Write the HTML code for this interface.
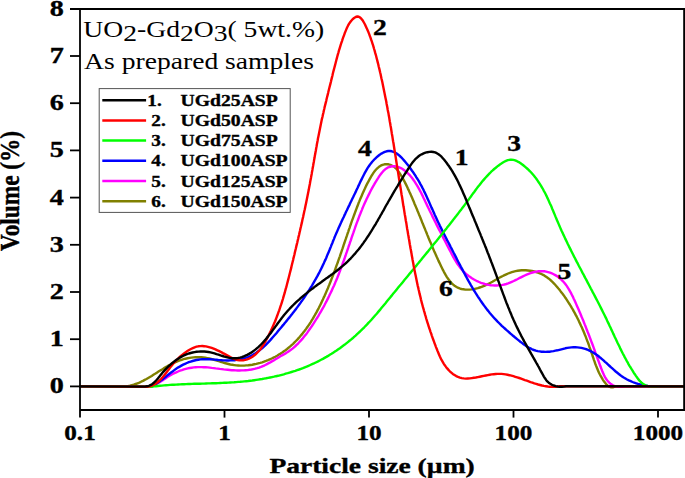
<!DOCTYPE html>
<html><head><meta charset="utf-8"><style>
html,body{margin:0;padding:0;background:#fff;width:685px;height:478px;overflow:hidden}
svg{display:block}
text{font-family:"Liberation Serif",serif}
.b{font-weight:bold;font-size:21px;stroke:#000;stroke-width:0.35px}
.c path{fill:none;stroke-width:2.4;stroke-linejoin:round;stroke-linecap:round}
.a path{fill:none;stroke:#000;stroke-width:1.8}
</style></head><body>
<svg width="685" height="478" viewBox="0 0 685 478">
<g class="c"><path d="M80 386.4 L124.0 386.6 L126.1 386.4 L128.0 386.1 L130.0 385.7 L131.9 385.2 L133.8 384.7 L135.7 384.0 L137.5 383.3 L139.4 382.6 L141.2 381.7 L143.0 380.9 L144.7 379.9 L146.5 379.0 L148.2 378.0 L149.9 377.0 L151.7 375.9 L153.4 374.8 L155.1 373.8 L156.8 372.7 L158.5 371.6 L160.2 370.5 L162.0 369.5 L163.7 368.4 L165.4 367.4 L167.2 366.4 L168.9 365.4 L170.7 364.5 L172.5 363.5 L174.3 362.7 L176.1 361.9 L177.9 361.1 L179.8 360.4 L181.7 359.8 L183.6 359.2 L185.5 358.7 L187.5 358.3 L189.5 357.9 L191.4 357.6 L193.4 357.4 L195.4 357.3 L197.4 357.2 L199.4 357.3 L201.4 357.3 L203.4 357.5 L205.4 357.8 L207.3 358.1 L209.3 358.5 L211.2 359.0 L213.1 359.5 L215.0 360.1 L216.9 360.6 L218.8 361.2 L220.7 361.8 L222.7 362.4 L224.6 363.0 L226.5 363.5 L228.4 364.0 L230.4 364.5 L232.3 364.8 L234.3 365.1 L236.2 365.4 L238.2 365.5 L240.2 365.6 L242.2 365.6 L244.2 365.6 L246.2 365.4 L248.3 365.3 L250.3 365.0 L252.3 364.7 L254.3 364.3 L256.3 363.9 L258.2 363.4 L260.2 362.9 L262.2 362.3 L264.1 361.6 L266.0 360.9 L268.0 360.1 L269.8 359.3 L271.7 358.5 L273.5 357.6 L275.3 356.7 L277.1 355.7 L278.9 354.6 L280.6 353.6 L282.3 352.5 L283.9 351.3 L285.5 350.2 L287.1 349.0 L288.6 347.7 L290.2 346.4 L291.6 345.1 L293.1 343.8 L294.5 342.4 L295.9 341.0 L297.3 339.6 L298.6 338.1 L299.9 336.7 L301.2 335.1 L302.5 333.6 L303.7 332.1 L304.9 330.5 L306.1 328.9 L307.2 327.3 L308.4 325.6 L309.5 324.0 L310.6 322.3 L311.6 320.6 L312.7 318.9 L313.7 317.1 L314.7 315.4 L315.7 313.6 L316.7 311.9 L317.6 310.1 L318.6 308.3 L319.5 306.5 L320.4 304.7 L321.3 302.9 L322.1 301.1 L323.0 299.3 L323.8 297.4 L324.7 295.6 L325.5 293.8 L326.3 291.9 L327.1 290.1 L327.9 288.2 L328.6 286.4 L329.4 284.5 L330.1 282.7 L330.9 280.8 L331.6 278.9 L332.3 277.0 L333.1 275.2 L333.8 273.3 L334.5 271.4 L335.2 269.5 L335.8 267.6 L336.5 265.7 L337.2 263.9 L337.9 262.0 L338.5 260.1 L339.2 258.2 L339.9 256.3 L340.5 254.4 L341.2 252.5 L341.8 250.6 L342.5 248.7 L343.1 246.8 L343.7 244.9 L344.4 243.0 L345.0 241.1 L345.7 239.2 L346.3 237.3 L347.0 235.4 L347.6 233.5 L348.3 231.6 L348.9 229.7 L349.6 227.8 L350.2 225.9 L350.9 224.0 L351.5 222.1 L352.2 220.2 L352.9 218.3 L353.6 216.4 L354.3 214.5 L355.0 212.6 L355.7 210.8 L356.4 208.9 L357.1 207.0 L357.8 205.2 L358.5 203.3 L359.3 201.4 L360.0 199.6 L360.8 197.7 L361.6 195.9 L362.4 194.0 L363.2 192.2 L364.0 190.4 L364.9 188.5 L365.7 186.7 L366.6 184.9 L367.5 183.1 L368.5 181.3 L369.4 179.6 L370.4 177.8 L371.4 176.0 L372.5 174.3 L373.6 172.6 L374.8 171.0 L376.1 169.5 L377.5 168.1 L379.0 166.8 L380.7 165.7 L382.5 164.9 L384.5 164.3 L386.5 164.1 L388.5 164.3 L390.4 164.8 L392.2 165.7 L394.0 166.7 L395.5 168.0 L396.9 169.4 L398.1 171.0 L399.3 172.6 L400.4 174.3 L401.4 176.0 L402.4 177.7 L403.4 179.5 L404.4 181.3 L405.3 183.1 L406.2 184.9 L407.1 186.8 L407.9 188.6 L408.8 190.4 L409.6 192.3 L410.5 194.1 L411.3 196.0 L412.1 197.8 L412.9 199.7 L413.7 201.5 L414.4 203.4 L415.2 205.2 L416.0 207.1 L416.8 208.9 L417.5 210.7 L418.3 212.6 L419.0 214.4 L419.8 216.2 L420.5 218.1 L421.3 219.9 L422.0 221.8 L422.7 223.6 L423.5 225.4 L424.2 227.3 L425.0 229.1 L425.7 230.9 L426.5 232.8 L427.2 234.6 L428.0 236.5 L428.7 238.3 L429.5 240.2 L430.3 242.0 L431.1 243.8 L431.8 245.7 L432.6 247.5 L433.4 249.4 L434.2 251.3 L435.1 253.1 L435.9 255.0 L436.7 256.8 L437.6 258.7 L438.4 260.6 L439.3 262.4 L440.2 264.3 L441.1 266.2 L442.0 268.0 L442.9 269.9 L443.9 271.8 L444.9 273.6 L445.9 275.4 L446.9 277.1 L448.1 278.8 L449.2 280.4 L450.5 281.9 L451.8 283.3 L453.2 284.6 L454.6 285.7 L456.2 286.8 L457.8 287.7 L459.6 288.4 L461.4 289.0 L463.4 289.3 L465.4 289.6 L467.5 289.6 L469.6 289.6 L471.7 289.4 L473.8 289.1 L475.8 288.6 L477.8 288.1 L479.7 287.5 L481.6 286.9 L483.5 286.1 L485.3 285.3 L487.1 284.5 L488.9 283.6 L490.6 282.7 L492.4 281.7 L494.1 280.7 L495.8 279.8 L497.6 278.8 L499.3 277.8 L501.0 276.9 L502.8 276.0 L504.5 275.1 L506.3 274.3 L508.1 273.5 L509.9 272.8 L511.8 272.2 L513.7 271.6 L515.6 271.1 L517.6 270.8 L519.6 270.5 L521.6 270.3 L523.7 270.3 L525.8 270.3 L527.9 270.5 L530.0 270.7 L532.0 271.0 L534.1 271.5 L536.1 272.0 L538.0 272.6 L539.9 273.4 L541.8 274.2 L543.6 275.1 L545.3 276.2 L546.9 277.3 L548.5 278.4 L550.0 279.7 L551.5 281.0 L552.9 282.4 L554.3 283.8 L555.6 285.2 L556.9 286.7 L558.2 288.3 L559.5 289.8 L560.7 291.4 L561.9 292.9 L563.1 294.5 L564.3 296.1 L565.4 297.8 L566.5 299.4 L567.6 301.1 L568.7 302.8 L569.8 304.5 L570.8 306.2 L571.8 307.9 L572.9 309.6 L573.8 311.4 L574.8 313.1 L575.7 314.9 L576.7 316.7 L577.6 318.5 L578.5 320.3 L579.3 322.1 L580.2 323.9 L581.0 325.7 L581.9 327.6 L582.7 329.4 L583.5 331.3 L584.3 333.2 L585.0 335.0 L585.8 336.9 L586.5 338.8 L587.2 340.7 L588.0 342.6 L588.7 344.5 L589.3 346.4 L590.0 348.3 L590.7 350.2 L591.3 352.1 L592.0 354.0 L592.6 356.0 L593.3 357.9 L593.9 359.8 L594.6 361.7 L595.2 363.5 L595.9 365.4 L596.7 367.3 L597.4 369.1 L598.2 370.9 L599.0 372.7 L599.9 374.5 L600.8 376.2 L601.8 377.9 L602.8 379.6 L603.9 381.2 L605.1 382.8 L606.3 384.4 L607.7 385.7 L609.3 386.7 L611.1 387.3 L613.4 387.2 L616.0 386.4 L683 386.4" stroke="#808000"/><path d="M80 386.4 L150.1 386.7 L152.0 386.1 L153.8 385.3 L155.6 384.4 L157.3 383.5 L159.1 382.5 L160.7 381.4 L162.4 380.4 L164.1 379.3 L165.8 378.2 L167.4 377.1 L169.1 376.0 L170.9 375.0 L172.6 374.0 L174.4 373.1 L176.3 372.3 L178.1 371.5 L180.0 370.7 L181.9 370.1 L183.9 369.4 L185.8 368.9 L187.8 368.4 L189.7 368.0 L191.7 367.7 L193.7 367.4 L195.7 367.2 L197.7 367.1 L199.7 367.1 L201.7 367.1 L203.7 367.2 L205.7 367.3 L207.7 367.4 L209.7 367.6 L211.7 367.9 L213.7 368.1 L215.7 368.4 L217.7 368.6 L219.7 368.9 L221.7 369.1 L223.7 369.4 L225.7 369.6 L227.7 369.8 L229.7 370.0 L231.7 370.2 L233.7 370.3 L235.7 370.4 L237.7 370.5 L239.7 370.5 L241.7 370.4 L243.7 370.4 L245.6 370.2 L247.6 370.1 L249.5 369.8 L251.5 369.5 L253.4 369.1 L255.3 368.7 L257.2 368.2 L259.1 367.6 L261.0 366.9 L262.9 366.1 L264.7 365.3 L266.5 364.4 L268.3 363.4 L270.2 362.4 L271.9 361.4 L273.7 360.4 L275.5 359.3 L277.3 358.2 L279.0 357.2 L280.8 356.1 L282.5 355.1 L284.3 354.1 L286.0 353.1 L287.7 352.0 L289.3 350.9 L290.9 349.8 L292.5 348.6 L294.0 347.3 L295.5 346.0 L296.9 344.7 L298.3 343.3 L299.7 341.8 L301.0 340.4 L302.3 338.9 L303.6 337.3 L304.8 335.8 L306.1 334.2 L307.3 332.6 L308.5 330.9 L309.6 329.3 L310.8 327.6 L311.9 326.0 L313.0 324.3 L314.1 322.6 L315.2 320.9 L316.3 319.2 L317.4 317.5 L318.4 315.8 L319.4 314.0 L320.4 312.3 L321.4 310.6 L322.4 308.8 L323.4 307.1 L324.4 305.3 L325.3 303.5 L326.3 301.7 L327.2 299.9 L328.1 298.1 L329.0 296.3 L329.8 294.5 L330.7 292.7 L331.6 290.9 L332.4 289.1 L333.2 287.3 L334.1 285.4 L334.9 283.6 L335.6 281.7 L336.4 279.9 L337.2 278.0 L337.9 276.2 L338.7 274.3 L339.4 272.4 L340.1 270.6 L340.8 268.7 L341.5 266.8 L342.2 264.9 L342.9 263.0 L343.6 261.1 L344.3 259.3 L344.9 257.4 L345.6 255.5 L346.2 253.6 L346.9 251.7 L347.5 249.8 L348.2 247.9 L348.8 246.0 L349.5 244.1 L350.1 242.2 L350.8 240.3 L351.4 238.4 L352.0 236.5 L352.7 234.6 L353.4 232.7 L354.0 230.8 L354.7 228.9 L355.3 227.0 L356.0 225.1 L356.7 223.2 L357.4 221.3 L358.1 219.5 L358.8 217.6 L359.5 215.7 L360.3 213.8 L361.0 212.0 L361.8 210.1 L362.5 208.3 L363.3 206.4 L364.1 204.6 L364.9 202.7 L365.8 200.9 L366.6 199.1 L367.5 197.2 L368.4 195.4 L369.3 193.6 L370.2 191.8 L371.1 190.0 L372.1 188.2 L373.1 186.4 L374.1 184.7 L375.1 182.9 L376.2 181.1 L377.3 179.4 L378.4 177.7 L379.5 175.9 L380.7 174.3 L381.9 172.7 L383.2 171.2 L384.6 169.9 L386.0 168.7 L387.6 167.7 L389.2 167.0 L391.0 166.5 L392.9 166.3 L394.8 166.3 L396.7 166.6 L398.5 167.1 L400.4 167.9 L402.2 168.8 L403.9 170.0 L405.6 171.2 L407.2 172.6 L408.7 174.2 L410.2 175.7 L411.5 177.3 L412.8 179.0 L414.0 180.7 L415.1 182.4 L416.2 184.1 L417.3 185.8 L418.3 187.6 L419.2 189.3 L420.2 191.1 L421.1 192.8 L422.0 194.6 L422.9 196.4 L423.7 198.2 L424.6 200.0 L425.4 201.8 L426.3 203.6 L427.1 205.4 L428.0 207.2 L428.9 209.0 L429.7 210.7 L430.6 212.5 L431.5 214.3 L432.3 216.1 L433.2 217.9 L434.1 219.7 L435.0 221.5 L435.9 223.3 L436.8 225.1 L437.7 226.9 L438.6 228.7 L439.5 230.5 L440.5 232.2 L441.4 234.0 L442.3 235.8 L443.2 237.6 L444.1 239.4 L445.1 241.2 L446.0 243.0 L446.9 244.8 L447.9 246.6 L448.8 248.4 L449.7 250.2 L450.7 252.0 L451.6 253.8 L452.6 255.6 L453.5 257.4 L454.5 259.1 L455.6 260.9 L456.6 262.6 L457.7 264.2 L458.9 265.9 L460.1 267.5 L461.3 269.0 L462.6 270.5 L464.0 272.0 L465.5 273.4 L467.0 274.7 L468.6 276.0 L470.2 277.1 L471.9 278.3 L473.6 279.3 L475.4 280.3 L477.2 281.2 L479.1 282.0 L481.0 282.8 L482.9 283.4 L484.8 284.0 L486.7 284.5 L488.7 284.9 L490.7 285.2 L492.6 285.4 L494.6 285.5 L496.6 285.5 L498.6 285.4 L500.5 285.2 L502.5 284.9 L504.4 284.5 L506.3 284.0 L508.1 283.4 L510.0 282.6 L511.8 281.8 L513.7 281.0 L515.5 280.1 L517.3 279.2 L519.1 278.2 L521.0 277.3 L522.9 276.4 L524.7 275.5 L526.6 274.6 L528.6 273.9 L530.5 273.2 L532.5 272.5 L534.5 272.0 L536.5 271.6 L538.4 271.3 L540.4 271.2 L542.4 271.2 L544.3 271.3 L546.2 271.6 L548.1 272.1 L550.0 272.6 L551.8 273.3 L553.6 274.2 L555.3 275.1 L557.0 276.1 L558.6 277.3 L560.1 278.5 L561.6 279.9 L563.0 281.3 L564.3 282.8 L565.5 284.3 L566.7 285.9 L567.8 287.6 L568.9 289.3 L569.9 291.1 L570.9 292.9 L571.8 294.7 L572.8 296.6 L573.6 298.4 L574.5 300.3 L575.4 302.2 L576.2 304.1 L577.0 305.9 L577.8 307.8 L578.6 309.6 L579.4 311.5 L580.2 313.3 L581.0 315.2 L581.7 317.0 L582.5 318.9 L583.3 320.7 L584.0 322.6 L584.7 324.4 L585.5 326.3 L586.2 328.1 L586.9 330.0 L587.6 331.8 L588.4 333.7 L589.1 335.5 L589.8 337.4 L590.5 339.2 L591.2 341.1 L591.9 343.0 L592.6 344.8 L593.3 346.7 L594.0 348.6 L594.7 350.5 L595.3 352.4 L596.0 354.3 L596.7 356.2 L597.4 358.1 L598.1 360.0 L598.8 361.9 L599.5 363.9 L600.2 365.8 L601.0 367.8 L601.7 369.7 L602.4 371.6 L603.3 373.5 L604.1 375.3 L605.0 377.1 L606.0 378.7 L607.1 380.3 L608.3 381.7 L609.6 383.0 L611.0 384.1 L612.5 385.0 L614.2 385.8 L616.1 386.4 L618.1 386.7 L620.3 386.9 L622.7 386.7 L625.2 386.3 L683 386.4" stroke="#ff00ff"/><path d="M80 386.4 L150.2 386.9 L152.0 386.1 L153.7 385.2 L155.5 384.2 L157.1 383.2 L158.8 382.1 L160.4 380.9 L162.0 379.7 L163.5 378.5 L165.1 377.3 L166.6 376.0 L168.2 374.8 L169.8 373.5 L171.4 372.3 L173.0 371.1 L174.6 369.9 L176.2 368.7 L177.9 367.6 L179.7 366.6 L181.4 365.6 L183.2 364.6 L185.0 363.8 L186.9 363.0 L188.8 362.2 L190.7 361.6 L192.6 361.0 L194.5 360.5 L196.4 360.0 L198.4 359.7 L200.4 359.4 L202.3 359.3 L204.3 359.2 L206.3 359.2 L208.3 359.2 L210.3 359.3 L212.3 359.4 L214.3 359.6 L216.3 359.8 L218.3 360.0 L220.3 360.1 L222.3 360.3 L224.4 360.4 L226.4 360.5 L228.4 360.5 L230.4 360.4 L232.5 360.3 L234.5 360.2 L236.5 359.9 L238.5 359.6 L240.4 359.3 L242.4 358.8 L244.3 358.3 L246.2 357.7 L248.0 357.1 L249.8 356.3 L251.6 355.5 L253.3 354.5 L255.0 353.5 L256.6 352.5 L258.2 351.3 L259.8 350.1 L261.4 348.9 L262.9 347.6 L264.4 346.2 L265.8 344.8 L267.2 343.4 L268.7 341.9 L270.1 340.4 L271.4 338.9 L272.8 337.3 L274.1 335.8 L275.5 334.2 L276.8 332.7 L278.1 331.1 L279.4 329.5 L280.7 328.0 L282.0 326.4 L283.3 324.9 L284.6 323.3 L285.9 321.8 L287.1 320.2 L288.4 318.6 L289.7 317.1 L290.9 315.5 L292.1 314.0 L293.3 312.4 L294.6 310.8 L295.8 309.2 L297.0 307.6 L298.1 306.1 L299.3 304.5 L300.5 302.9 L301.6 301.2 L302.8 299.6 L303.9 298.0 L305.0 296.3 L306.1 294.7 L307.2 293.0 L308.3 291.4 L309.4 289.7 L310.4 288.0 L311.5 286.3 L312.5 284.6 L313.5 282.8 L314.5 281.1 L315.5 279.4 L316.5 277.6 L317.5 275.9 L318.4 274.1 L319.4 272.3 L320.3 270.5 L321.2 268.7 L322.1 266.9 L322.9 265.1 L323.8 263.3 L324.6 261.4 L325.5 259.6 L326.3 257.7 L327.0 255.9 L327.8 254.0 L328.6 252.2 L329.4 250.3 L330.1 248.5 L330.9 246.6 L331.6 244.7 L332.4 242.9 L333.1 241.0 L333.9 239.1 L334.6 237.3 L335.4 235.4 L336.2 233.6 L337.0 231.8 L337.8 229.9 L338.6 228.1 L339.4 226.3 L340.2 224.5 L341.1 222.6 L341.9 220.8 L342.7 219.0 L343.6 217.2 L344.4 215.4 L345.3 213.6 L346.1 211.8 L347.0 210.0 L347.8 208.2 L348.7 206.4 L349.6 204.6 L350.4 202.8 L351.3 201.0 L352.2 199.1 L353.1 197.3 L353.9 195.5 L354.8 193.7 L355.7 191.9 L356.5 190.1 L357.4 188.2 L358.2 186.4 L359.1 184.6 L359.9 182.7 L360.8 180.9 L361.7 179.1 L362.6 177.3 L363.5 175.5 L364.4 173.7 L365.4 171.9 L366.4 170.1 L367.4 168.4 L368.5 166.7 L369.7 165.0 L370.9 163.4 L372.2 161.8 L373.6 160.3 L375.0 158.8 L376.5 157.4 L378.1 156.0 L379.7 154.7 L381.4 153.6 L383.1 152.7 L384.9 151.9 L386.6 151.3 L388.4 151.0 L390.1 151.0 L391.8 151.3 L393.5 151.8 L395.1 152.6 L396.7 153.5 L398.3 154.7 L399.8 156.0 L401.3 157.4 L402.8 159.0 L404.2 160.6 L405.6 162.2 L407.0 163.9 L408.3 165.6 L409.6 167.3 L410.8 169.0 L412.0 170.7 L413.2 172.3 L414.3 174.0 L415.4 175.6 L416.4 177.3 L417.5 179.0 L418.5 180.7 L419.5 182.4 L420.4 184.1 L421.4 185.8 L422.3 187.6 L423.2 189.3 L424.0 191.1 L424.9 192.9 L425.8 194.7 L426.6 196.5 L427.4 198.4 L428.3 200.2 L429.1 202.0 L429.9 203.9 L430.7 205.7 L431.5 207.6 L432.4 209.4 L433.2 211.3 L434.0 213.1 L434.8 214.9 L435.7 216.8 L436.5 218.6 L437.3 220.4 L438.2 222.2 L439.1 224.0 L439.9 225.8 L440.8 227.6 L441.7 229.4 L442.6 231.2 L443.5 233.0 L444.4 234.7 L445.3 236.5 L446.2 238.3 L447.1 240.1 L448.0 241.8 L449.0 243.6 L449.9 245.4 L450.8 247.2 L451.7 248.9 L452.6 250.7 L453.5 252.5 L454.5 254.3 L455.4 256.1 L456.3 257.9 L457.2 259.7 L458.1 261.5 L459.1 263.3 L460.0 265.0 L460.9 266.8 L461.9 268.6 L462.8 270.4 L463.7 272.2 L464.7 274.0 L465.7 275.8 L466.6 277.5 L467.6 279.3 L468.6 281.1 L469.6 282.8 L470.6 284.6 L471.6 286.3 L472.6 288.0 L473.6 289.8 L474.7 291.5 L475.7 293.2 L476.8 294.9 L477.9 296.6 L479.0 298.2 L480.1 299.9 L481.2 301.5 L482.4 303.2 L483.5 304.8 L484.7 306.4 L485.9 308.0 L487.1 309.6 L488.4 311.1 L489.6 312.7 L490.9 314.2 L492.2 315.7 L493.5 317.2 L494.8 318.7 L496.2 320.1 L497.6 321.6 L499.0 323.0 L500.4 324.4 L501.8 325.8 L503.3 327.2 L504.8 328.5 L506.3 329.9 L507.8 331.2 L509.3 332.5 L510.8 333.8 L512.4 335.2 L514.0 336.5 L515.5 337.8 L517.1 339.1 L518.7 340.4 L520.3 341.7 L521.9 342.9 L523.6 344.2 L525.2 345.3 L526.9 346.5 L528.6 347.5 L530.4 348.4 L532.1 349.3 L534.0 350.0 L535.8 350.6 L537.7 351.1 L539.6 351.4 L541.6 351.7 L543.5 351.8 L545.5 351.9 L547.5 351.8 L549.5 351.7 L551.5 351.4 L553.5 351.1 L555.4 350.7 L557.4 350.3 L559.4 349.8 L561.4 349.3 L563.3 348.8 L565.3 348.3 L567.3 347.9 L569.3 347.6 L571.4 347.4 L573.4 347.3 L575.4 347.3 L577.4 347.4 L579.4 347.6 L581.4 347.9 L583.3 348.4 L585.2 348.9 L587.1 349.5 L588.9 350.3 L590.6 351.1 L592.3 352.0 L594.0 353.1 L595.7 354.1 L597.3 355.3 L598.9 356.5 L600.4 357.8 L602.0 359.1 L603.5 360.4 L605.0 361.8 L606.6 363.2 L608.1 364.6 L609.6 366.0 L611.1 367.4 L612.6 368.7 L614.2 370.1 L615.7 371.5 L617.3 372.8 L618.8 374.0 L620.4 375.3 L622.1 376.4 L623.7 377.5 L625.4 378.5 L627.1 379.5 L628.9 380.4 L630.7 381.2 L632.5 382.0 L634.3 382.7 L636.2 383.3 L638.1 383.9 L640.0 384.4 L641.9 384.9 L643.9 385.3 L645.8 385.6 L647.8 385.9 L649.8 386.1 L651.9 386.2 L653.9 386.3 L656.0 386.4 L658.0 386.4 L660.1 386.3 L683 386.4" stroke="#0000ff"/><path d="M80 386.4 L152.0 386.7 L154.0 386.4 L156.0 386.2 L158.0 386.0 L160.0 385.8 L162.0 385.6 L164.0 385.4 L166.0 385.2 L168.0 385.1 L170.0 384.9 L172.1 384.8 L174.1 384.7 L176.1 384.6 L178.1 384.5 L180.1 384.4 L182.1 384.3 L184.1 384.2 L186.1 384.1 L188.1 384.0 L190.1 384.0 L192.1 383.9 L194.1 383.8 L196.1 383.8 L198.1 383.7 L200.1 383.7 L202.1 383.6 L204.1 383.6 L206.1 383.5 L208.1 383.4 L210.1 383.4 L212.1 383.3 L214.1 383.3 L216.1 383.2 L218.1 383.1 L220.2 383.0 L222.2 382.9 L224.2 382.8 L226.2 382.7 L228.2 382.6 L230.2 382.5 L232.2 382.4 L234.2 382.3 L236.2 382.1 L238.2 381.9 L240.2 381.8 L242.2 381.6 L244.2 381.4 L246.2 381.2 L248.2 381.0 L250.2 380.7 L252.2 380.5 L254.2 380.2 L256.2 379.9 L258.2 379.6 L260.2 379.3 L262.2 379.0 L264.1 378.6 L266.1 378.3 L268.1 377.9 L270.1 377.5 L272.1 377.1 L274.0 376.7 L276.0 376.2 L278.0 375.8 L279.9 375.3 L281.9 374.8 L283.8 374.3 L285.7 373.7 L287.7 373.2 L289.6 372.6 L291.5 372.0 L293.4 371.4 L295.3 370.8 L297.2 370.1 L299.1 369.5 L301.0 368.8 L302.9 368.1 L304.8 367.3 L306.6 366.6 L308.5 365.8 L310.3 365.0 L312.1 364.2 L313.9 363.4 L315.8 362.5 L317.6 361.6 L319.3 360.7 L321.1 359.8 L322.9 358.9 L324.6 357.9 L326.4 356.9 L328.1 355.9 L329.8 354.8 L331.5 353.8 L333.2 352.7 L334.9 351.6 L336.6 350.5 L338.3 349.3 L339.9 348.2 L341.5 347.0 L343.1 345.8 L344.8 344.6 L346.3 343.4 L347.9 342.1 L349.5 340.8 L351.0 339.6 L352.6 338.3 L354.1 336.9 L355.6 335.6 L357.1 334.2 L358.5 332.9 L360.0 331.5 L361.4 330.1 L362.9 328.7 L364.3 327.3 L365.7 325.8 L367.1 324.4 L368.4 322.9 L369.8 321.5 L371.2 320.0 L372.5 318.5 L373.8 317.0 L375.1 315.5 L376.5 314.0 L377.8 312.4 L379.1 310.9 L380.4 309.4 L381.6 307.8 L382.9 306.3 L384.2 304.7 L385.5 303.2 L386.8 301.6 L388.0 300.1 L389.3 298.5 L390.6 296.9 L391.9 295.4 L393.1 293.8 L394.4 292.3 L395.7 290.7 L396.9 289.2 L398.2 287.6 L399.5 286.0 L400.8 284.5 L402.1 282.9 L403.3 281.4 L404.6 279.8 L405.9 278.3 L407.2 276.7 L408.4 275.2 L409.7 273.6 L411.0 272.1 L412.3 270.5 L413.6 269.0 L414.8 267.4 L416.1 265.9 L417.4 264.3 L418.7 262.8 L419.9 261.2 L421.2 259.7 L422.5 258.1 L423.8 256.5 L425.0 255.0 L426.3 253.4 L427.6 251.9 L428.9 250.3 L430.1 248.8 L431.4 247.2 L432.7 245.6 L433.9 244.1 L435.2 242.5 L436.5 241.0 L437.7 239.4 L439.0 237.8 L440.2 236.3 L441.5 234.7 L442.7 233.1 L444.0 231.6 L445.2 230.0 L446.5 228.4 L447.7 226.8 L449.0 225.3 L450.2 223.7 L451.5 222.1 L452.7 220.5 L453.9 218.9 L455.2 217.3 L456.4 215.8 L457.6 214.2 L458.8 212.6 L460.0 211.0 L461.3 209.4 L462.5 207.8 L463.7 206.2 L464.9 204.6 L466.1 203.0 L467.3 201.4 L468.5 199.7 L469.7 198.1 L470.9 196.5 L472.0 194.9 L473.2 193.3 L474.4 191.7 L475.6 190.0 L476.8 188.4 L478.0 186.8 L479.3 185.3 L480.5 183.7 L481.8 182.1 L483.0 180.6 L484.3 179.1 L485.7 177.5 L487.0 176.1 L488.4 174.6 L489.8 173.2 L491.2 171.7 L492.7 170.4 L494.2 169.0 L495.8 167.7 L497.4 166.4 L499.0 165.2 L500.7 163.9 L502.5 162.8 L504.2 161.8 L506.0 160.9 L507.8 160.2 L509.7 159.8 L511.5 159.7 L513.4 159.9 L515.2 160.4 L517.0 161.2 L518.8 162.1 L520.6 163.3 L522.3 164.5 L523.9 165.8 L525.5 167.1 L527.1 168.5 L528.6 169.9 L530.0 171.3 L531.4 172.8 L532.7 174.3 L534.0 175.8 L535.3 177.4 L536.5 179.0 L537.6 180.6 L538.7 182.3 L539.8 183.9 L540.9 185.6 L541.9 187.3 L542.9 189.0 L543.8 190.8 L544.8 192.5 L545.7 194.3 L546.6 196.1 L547.4 197.9 L548.3 199.7 L549.1 201.6 L549.9 203.4 L550.8 205.3 L551.6 207.1 L552.3 209.0 L553.1 210.8 L553.9 212.7 L554.7 214.6 L555.4 216.4 L556.2 218.3 L557.0 220.2 L557.8 222.0 L558.6 223.9 L559.4 225.7 L560.2 227.6 L561.0 229.4 L561.8 231.3 L562.7 233.1 L563.5 234.9 L564.4 236.7 L565.2 238.6 L566.1 240.4 L567.0 242.2 L567.8 244.0 L568.7 245.8 L569.6 247.6 L570.5 249.4 L571.4 251.2 L572.3 253.0 L573.2 254.8 L574.1 256.6 L575.0 258.3 L575.9 260.1 L576.8 261.9 L577.8 263.7 L578.7 265.5 L579.6 267.2 L580.6 269.0 L581.5 270.8 L582.4 272.6 L583.4 274.3 L584.3 276.1 L585.2 277.9 L586.2 279.6 L587.1 281.4 L588.0 283.2 L589.0 285.0 L589.9 286.7 L590.8 288.5 L591.8 290.3 L592.7 292.1 L593.6 293.8 L594.6 295.6 L595.5 297.4 L596.4 299.2 L597.4 301.0 L598.3 302.7 L599.2 304.5 L600.1 306.3 L601.0 308.1 L601.9 309.9 L602.8 311.7 L603.7 313.5 L604.6 315.3 L605.5 317.1 L606.4 318.9 L607.2 320.8 L608.1 322.6 L609.0 324.4 L609.8 326.2 L610.7 328.1 L611.5 329.9 L612.4 331.7 L613.2 333.6 L614.1 335.4 L614.9 337.2 L615.8 339.0 L616.7 340.9 L617.5 342.7 L618.4 344.5 L619.3 346.3 L620.1 348.1 L621.0 349.9 L621.9 351.7 L622.8 353.5 L623.8 355.3 L624.7 357.1 L625.6 358.8 L626.6 360.6 L627.6 362.3 L628.5 364.1 L629.5 365.8 L630.6 367.5 L631.6 369.2 L632.7 370.9 L633.7 372.6 L634.8 374.2 L635.9 375.9 L637.1 377.5 L638.2 379.1 L639.5 380.6 L640.8 382.0 L642.2 383.3 L643.8 384.4 L645.5 385.3 L647.4 386.0 L649.4 386.4 L651.6 386.6 L653.9 386.6 L656.1 386.5 L658.2 386.3 L683 386.4" stroke="#00ff00"/><path d="M80 386.4 L148.1 386.7 L150.0 386.3 L151.9 385.6 L153.7 384.8 L155.4 383.9 L156.9 382.8 L158.5 381.5 L159.9 380.2 L161.3 378.8 L162.6 377.3 L163.9 375.7 L165.2 374.1 L166.4 372.5 L167.7 370.8 L168.9 369.2 L170.1 367.5 L171.4 365.9 L172.6 364.4 L173.9 362.9 L175.3 361.4 L176.6 360.0 L178.0 358.6 L179.5 357.2 L180.9 355.9 L182.5 354.6 L184.0 353.4 L185.7 352.2 L187.4 351.1 L189.1 350.0 L190.9 349.0 L192.8 348.1 L194.6 347.3 L196.5 346.7 L198.4 346.3 L200.3 346.1 L202.2 346.0 L204.1 346.2 L206.0 346.4 L207.9 346.8 L209.8 347.3 L211.7 347.9 L213.6 348.6 L215.5 349.4 L217.4 350.3 L219.3 351.2 L221.2 352.1 L223.0 353.1 L224.9 354.1 L226.7 355.1 L228.5 356.1 L230.3 357.1 L232.1 358.0 L233.9 358.8 L235.7 359.5 L237.6 360.0 L239.4 360.3 L241.3 360.4 L243.3 360.2 L245.2 359.9 L247.1 359.3 L249.0 358.6 L250.8 357.7 L252.5 356.7 L254.1 355.6 L255.6 354.3 L257.0 352.9 L258.4 351.5 L259.7 350.0 L261.0 348.4 L262.1 346.7 L263.3 345.0 L264.4 343.2 L265.4 341.4 L266.4 339.6 L267.4 337.8 L268.3 336.0 L269.2 334.2 L270.1 332.4 L271.0 330.6 L271.8 328.8 L272.6 327.0 L273.4 325.1 L274.2 323.3 L275.0 321.5 L275.7 319.7 L276.4 317.8 L277.1 316.0 L277.8 314.1 L278.5 312.2 L279.2 310.4 L279.8 308.5 L280.4 306.6 L281.1 304.7 L281.7 302.8 L282.3 300.9 L282.9 299.0 L283.4 297.1 L284.0 295.2 L284.6 293.2 L285.1 291.3 L285.6 289.4 L286.2 287.4 L286.7 285.5 L287.2 283.5 L287.7 281.6 L288.2 279.6 L288.7 277.7 L289.2 275.7 L289.7 273.8 L290.2 271.8 L290.7 269.9 L291.2 267.9 L291.6 266.0 L292.1 264.0 L292.6 262.0 L293.1 260.1 L293.5 258.1 L294.0 256.2 L294.5 254.2 L294.9 252.3 L295.4 250.3 L295.9 248.3 L296.3 246.4 L296.8 244.4 L297.3 242.5 L297.7 240.5 L298.2 238.6 L298.6 236.6 L299.1 234.7 L299.5 232.7 L300.0 230.7 L300.4 228.8 L300.9 226.8 L301.3 224.9 L301.8 222.9 L302.2 221.0 L302.6 219.0 L303.1 217.1 L303.5 215.1 L303.9 213.2 L304.3 211.2 L304.8 209.2 L305.2 207.3 L305.6 205.3 L306.0 203.4 L306.4 201.4 L306.8 199.4 L307.2 197.5 L307.6 195.5 L308.0 193.6 L308.4 191.6 L308.8 189.6 L309.1 187.7 L309.5 185.7 L309.9 183.7 L310.2 181.8 L310.6 179.8 L311.0 177.8 L311.3 175.9 L311.7 173.9 L312.0 171.9 L312.4 169.9 L312.7 168.0 L313.1 166.0 L313.4 164.0 L313.8 162.0 L314.1 160.1 L314.5 158.1 L314.8 156.1 L315.2 154.1 L315.5 152.2 L315.9 150.2 L316.2 148.2 L316.6 146.2 L316.9 144.3 L317.3 142.3 L317.7 140.3 L318.0 138.3 L318.4 136.4 L318.8 134.4 L319.2 132.4 L319.6 130.4 L320.0 128.5 L320.4 126.5 L320.8 124.5 L321.2 122.6 L321.6 120.6 L322.0 118.6 L322.5 116.7 L322.9 114.7 L323.4 112.7 L323.8 110.8 L324.3 108.8 L324.7 106.8 L325.2 104.9 L325.7 102.9 L326.2 101.0 L326.6 99.0 L327.1 97.0 L327.6 95.1 L328.1 93.1 L328.5 91.2 L329.0 89.3 L329.5 87.3 L330.0 85.4 L330.5 83.4 L331.0 81.5 L331.4 79.6 L331.9 77.6 L332.4 75.7 L332.8 73.8 L333.3 71.8 L333.8 69.9 L334.3 68.0 L334.8 66.1 L335.3 64.2 L335.8 62.2 L336.3 60.3 L336.8 58.4 L337.3 56.5 L337.8 54.6 L338.4 52.6 L338.9 50.7 L339.5 48.8 L340.1 46.9 L340.7 44.9 L341.3 43.0 L342.0 41.1 L342.6 39.1 L343.3 37.2 L344.0 35.3 L344.7 33.3 L345.5 31.4 L346.3 29.4 L347.1 27.5 L348.0 25.7 L349.0 23.9 L350.1 22.3 L351.3 20.7 L352.6 19.2 L354.1 18.0 L355.7 17.0 L357.3 16.5 L358.8 16.8 L360.2 17.6 L361.5 18.9 L362.8 20.6 L363.9 22.5 L365.0 24.5 L365.9 26.5 L366.8 28.4 L367.6 30.3 L368.4 32.1 L369.1 33.9 L369.8 35.8 L370.5 37.7 L371.1 39.5 L371.8 41.4 L372.4 43.3 L373.0 45.2 L373.6 47.1 L374.1 49.0 L374.7 50.9 L375.2 52.9 L375.8 54.8 L376.3 56.7 L376.8 58.7 L377.3 60.6 L377.8 62.6 L378.3 64.5 L378.7 66.5 L379.2 68.4 L379.7 70.4 L380.1 72.3 L380.6 74.3 L381.0 76.2 L381.4 78.2 L381.9 80.2 L382.3 82.1 L382.7 84.1 L383.1 86.0 L383.5 88.0 L383.9 90.0 L384.3 91.9 L384.7 93.9 L385.1 95.9 L385.5 97.9 L385.9 99.8 L386.3 101.8 L386.6 103.8 L387.0 105.7 L387.4 107.7 L387.7 109.7 L388.1 111.7 L388.5 113.6 L388.8 115.6 L389.2 117.6 L389.5 119.6 L389.8 121.5 L390.2 123.5 L390.5 125.5 L390.9 127.5 L391.2 129.5 L391.5 131.4 L391.8 133.4 L392.2 135.4 L392.5 137.4 L392.8 139.4 L393.1 141.3 L393.5 143.3 L393.8 145.3 L394.1 147.3 L394.4 149.3 L394.7 151.3 L395.0 153.2 L395.4 155.2 L395.7 157.2 L396.0 159.2 L396.3 161.2 L396.6 163.1 L396.9 165.1 L397.2 167.1 L397.5 169.1 L397.9 171.1 L398.2 173.0 L398.5 175.0 L398.8 177.0 L399.1 179.0 L399.4 180.9 L399.7 182.9 L400.1 184.9 L400.4 186.9 L400.7 188.8 L401.0 190.8 L401.3 192.8 L401.6 194.8 L402.0 196.8 L402.3 198.7 L402.6 200.7 L402.9 202.7 L403.2 204.7 L403.5 206.6 L403.9 208.6 L404.2 210.6 L404.5 212.6 L404.8 214.5 L405.2 216.5 L405.5 218.5 L405.8 220.5 L406.2 222.4 L406.5 224.4 L406.8 226.4 L407.1 228.4 L407.5 230.4 L407.8 232.3 L408.1 234.3 L408.5 236.3 L408.8 238.3 L409.2 240.2 L409.5 242.2 L409.8 244.2 L410.2 246.2 L410.5 248.2 L410.9 250.1 L411.2 252.1 L411.6 254.1 L411.9 256.1 L412.3 258.1 L412.6 260.0 L413.0 262.0 L413.4 264.0 L413.7 266.0 L414.1 267.9 L414.5 269.9 L414.9 271.9 L415.3 273.9 L415.7 275.8 L416.1 277.8 L416.5 279.8 L416.9 281.7 L417.3 283.7 L417.7 285.6 L418.2 287.6 L418.6 289.5 L419.1 291.5 L419.5 293.4 L420.0 295.4 L420.5 297.3 L420.9 299.2 L421.4 301.2 L421.9 303.1 L422.4 305.0 L422.9 306.9 L423.5 308.9 L424.0 310.8 L424.6 312.7 L425.1 314.6 L425.7 316.5 L426.2 318.5 L426.8 320.4 L427.4 322.3 L428.0 324.2 L428.6 326.1 L429.2 328.0 L429.9 329.9 L430.5 331.8 L431.2 333.7 L431.8 335.6 L432.5 337.6 L433.2 339.5 L433.9 341.4 L434.6 343.3 L435.3 345.2 L436.0 347.1 L436.8 349.0 L437.5 350.9 L438.3 352.8 L439.1 354.7 L439.9 356.5 L440.8 358.4 L441.7 360.2 L442.7 361.9 L443.7 363.6 L444.8 365.3 L446.0 366.9 L447.2 368.4 L448.5 369.9 L449.8 371.3 L451.3 372.6 L452.8 373.9 L454.5 375.0 L456.2 376.1 L458.0 376.9 L459.9 377.6 L461.8 378.1 L463.8 378.4 L465.8 378.6 L467.8 378.5 L469.8 378.4 L471.8 378.1 L473.8 377.8 L475.8 377.5 L477.8 377.1 L479.8 376.7 L481.8 376.3 L483.8 375.9 L485.8 375.5 L487.8 375.1 L489.8 374.7 L491.7 374.4 L493.7 374.2 L495.7 374.0 L497.6 373.9 L499.6 373.9 L501.6 373.9 L503.6 374.1 L505.5 374.4 L507.5 374.8 L509.5 375.2 L511.4 375.7 L513.4 376.2 L515.3 376.8 L517.2 377.4 L519.2 378.0 L521.1 378.7 L523.0 379.4 L524.9 380.1 L526.8 380.7 L528.7 381.4 L530.5 382.1 L532.4 382.7 L534.3 383.4 L536.2 383.9 L538.1 384.5 L540.0 385.0 L542.0 385.5 L543.9 385.9 L545.9 386.2 L547.8 386.5 L549.8 386.7 L551.8 386.8 L553.8 386.8 L555.9 386.7 L558.0 386.5 L560.1 386.3 L683 386.4" stroke="#ff0000"/><path d="M80 386.4 L145.0 386.6 L147.1 386.3 L149.0 385.8 L150.8 384.9 L152.4 383.9 L153.9 382.7 L155.3 381.4 L156.6 380.0 L157.9 378.5 L159.1 376.9 L160.4 375.3 L161.7 373.7 L163.0 372.1 L164.4 370.6 L165.8 369.1 L167.2 367.6 L168.7 366.2 L170.2 364.8 L171.7 363.5 L173.3 362.2 L174.9 361.0 L176.5 359.8 L178.2 358.7 L179.9 357.6 L181.6 356.6 L183.4 355.7 L185.2 354.9 L187.0 354.2 L188.8 353.5 L190.7 353.0 L192.6 352.5 L194.6 352.1 L196.5 351.8 L198.5 351.6 L200.5 351.5 L202.4 351.5 L204.4 351.5 L206.4 351.7 L208.5 352.0 L210.5 352.4 L212.5 352.9 L214.5 353.4 L216.5 354.1 L218.5 354.7 L220.5 355.4 L222.5 356.0 L224.4 356.7 L226.4 357.2 L228.4 357.7 L230.3 358.1 L232.3 358.3 L234.2 358.3 L236.1 358.2 L238.0 358.0 L239.9 357.6 L241.8 357.1 L243.6 356.5 L245.4 355.7 L247.2 354.9 L249.0 353.9 L250.7 352.9 L252.4 351.8 L254.0 350.6 L255.6 349.4 L257.1 348.1 L258.6 346.8 L260.1 345.4 L261.5 344.0 L262.9 342.5 L264.2 341.0 L265.5 339.5 L266.8 337.9 L268.1 336.4 L269.3 334.8 L270.6 333.2 L271.8 331.5 L273.0 329.9 L274.2 328.3 L275.4 326.6 L276.6 325.0 L277.8 323.3 L279.0 321.7 L280.2 320.1 L281.4 318.5 L282.6 316.9 L283.9 315.3 L285.2 313.8 L286.5 312.3 L287.8 310.8 L289.2 309.3 L290.5 307.8 L291.9 306.4 L293.3 305.0 L294.7 303.6 L296.2 302.2 L297.6 300.9 L299.1 299.6 L300.6 298.2 L302.1 296.9 L303.6 295.6 L305.1 294.4 L306.7 293.1 L308.2 291.8 L309.8 290.6 L311.4 289.4 L313.0 288.2 L314.6 286.9 L316.2 285.7 L317.8 284.5 L319.4 283.4 L321.1 282.2 L322.7 281.0 L324.4 279.8 L326.0 278.6 L327.7 277.5 L329.3 276.3 L330.9 275.1 L332.6 273.9 L334.2 272.7 L335.8 271.5 L337.4 270.2 L339.0 269.0 L340.5 267.7 L342.1 266.4 L343.6 265.1 L345.1 263.8 L346.6 262.5 L348.0 261.1 L349.4 259.7 L350.8 258.3 L352.2 256.8 L353.5 255.3 L354.8 253.9 L356.1 252.3 L357.4 250.8 L358.7 249.3 L359.9 247.7 L361.1 246.1 L362.3 244.5 L363.5 242.9 L364.6 241.2 L365.8 239.6 L366.9 237.9 L368.0 236.3 L369.1 234.6 L370.2 232.9 L371.3 231.2 L372.3 229.5 L373.4 227.7 L374.4 226.0 L375.5 224.3 L376.5 222.5 L377.5 220.8 L378.5 219.0 L379.5 217.3 L380.5 215.5 L381.5 213.8 L382.5 212.0 L383.5 210.3 L384.5 208.5 L385.4 206.8 L386.4 205.0 L387.4 203.3 L388.4 201.5 L389.4 199.8 L390.4 198.1 L391.4 196.4 L392.4 194.6 L393.4 192.9 L394.4 191.2 L395.4 189.5 L396.4 187.8 L397.5 186.1 L398.5 184.4 L399.5 182.7 L400.6 181.0 L401.6 179.3 L402.7 177.6 L403.7 175.9 L404.8 174.2 L405.9 172.5 L407.0 170.8 L408.1 169.0 L409.2 167.3 L410.3 165.6 L411.5 163.9 L412.7 162.3 L414.0 160.7 L415.3 159.2 L416.8 157.8 L418.3 156.5 L419.9 155.3 L421.7 154.3 L423.6 153.4 L425.5 152.7 L427.4 152.2 L429.4 151.9 L431.4 151.8 L433.3 152.0 L435.1 152.4 L436.8 153.2 L438.5 154.2 L440.0 155.4 L441.5 156.7 L442.8 158.2 L444.2 159.8 L445.5 161.4 L446.7 163.0 L447.9 164.7 L449.1 166.3 L450.2 168.0 L451.3 169.7 L452.4 171.4 L453.4 173.2 L454.4 174.9 L455.4 176.7 L456.3 178.4 L457.3 180.2 L458.2 182.0 L459.0 183.8 L459.9 185.6 L460.8 187.5 L461.6 189.3 L462.4 191.1 L463.2 193.0 L464.0 194.8 L464.8 196.6 L465.6 198.5 L466.4 200.3 L467.1 202.2 L467.9 204.1 L468.7 205.9 L469.4 207.8 L470.2 209.6 L471.0 211.5 L471.7 213.3 L472.5 215.2 L473.3 217.0 L474.1 218.9 L474.8 220.7 L475.6 222.6 L476.4 224.5 L477.1 226.3 L477.9 228.2 L478.6 230.0 L479.4 231.9 L480.2 233.7 L480.9 235.6 L481.7 237.5 L482.4 239.3 L483.2 241.2 L483.9 243.0 L484.7 244.9 L485.4 246.8 L486.2 248.6 L486.9 250.5 L487.6 252.4 L488.4 254.2 L489.1 256.1 L489.8 258.0 L490.5 259.8 L491.2 261.7 L492.0 263.6 L492.7 265.5 L493.4 267.4 L494.1 269.2 L494.8 271.1 L495.5 273.0 L496.2 274.9 L496.9 276.8 L497.5 278.7 L498.2 280.6 L498.9 282.4 L499.6 284.3 L500.3 286.2 L501.0 288.1 L501.7 290.0 L502.4 291.9 L503.1 293.8 L503.8 295.6 L504.5 297.5 L505.2 299.4 L505.9 301.3 L506.6 303.2 L507.4 305.0 L508.1 306.9 L508.9 308.7 L509.6 310.6 L510.4 312.5 L511.2 314.3 L511.9 316.2 L512.7 318.0 L513.5 319.8 L514.4 321.7 L515.2 323.5 L516.0 325.3 L516.9 327.1 L517.8 328.9 L518.7 330.7 L519.6 332.5 L520.5 334.3 L521.4 336.1 L522.3 337.8 L523.3 339.6 L524.2 341.4 L525.2 343.1 L526.2 344.9 L527.1 346.7 L528.1 348.4 L529.1 350.2 L530.1 351.9 L531.1 353.7 L532.1 355.4 L533.1 357.2 L534.1 358.9 L535.1 360.7 L536.1 362.5 L537.1 364.2 L538.1 366.0 L539.1 367.7 L540.0 369.5 L541.0 371.3 L542.0 373.1 L542.9 374.8 L543.9 376.6 L545.0 378.3 L546.1 379.9 L547.3 381.4 L548.7 382.7 L550.3 383.8 L552.0 384.8 L553.8 385.5 L555.7 386.1 L557.8 386.5 L559.8 386.7 L561.9 386.7 L564.0 386.6 L566.1 386.2 L683 386.4" stroke="#000000"/></g>
<g class="a"><path d="M70 9 H684.1 V410 H80 V417.6 M80 9 V410" /><path d="M70 386.4 H80"/><path d="M70 339.2 H80"/><path d="M70 292.0 H80"/><path d="M70 244.8 H80"/><path d="M70 197.6 H80"/><path d="M70 150.4 H80"/><path d="M70 103.2 H80"/><path d="M70 56.0 H80"/><path d="M224.5 410 V417.6"/><path d="M369 410 V417.6"/><path d="M513.5 410 V417.6"/><path d="M658 410 V417.6"/></g>
<g><text x="0" y="0" class="b" style="font-size:22.5px" text-anchor="end" transform="translate(63.7 393.4) scale(1.25 1)" >0</text><text x="0" y="0" class="b" style="font-size:22.5px" text-anchor="end" transform="translate(63.7 346.2) scale(1.25 1)" >1</text><text x="0" y="0" class="b" style="font-size:22.5px" text-anchor="end" transform="translate(63.7 299.0) scale(1.25 1)" >2</text><text x="0" y="0" class="b" style="font-size:22.5px" text-anchor="end" transform="translate(63.7 251.8) scale(1.25 1)" >3</text><text x="0" y="0" class="b" style="font-size:22.5px" text-anchor="end" transform="translate(63.7 204.6) scale(1.25 1)" >4</text><text x="0" y="0" class="b" style="font-size:22.5px" text-anchor="end" transform="translate(63.7 157.4) scale(1.25 1)" >5</text><text x="0" y="0" class="b" style="font-size:22.5px" text-anchor="end" transform="translate(63.7 110.2) scale(1.25 1)" >6</text><text x="0" y="0" class="b" style="font-size:22.5px" text-anchor="end" transform="translate(63.7 63.0) scale(1.25 1)" >7</text><text x="0" y="0" class="b" style="font-size:22.5px" text-anchor="end" transform="translate(63.7 15.8) scale(1.25 1)" >8</text></g>
<g><text x="66.67" y="439.7" class="b" text-anchor="middle" transform="scale(1.2 1)">0.1</text><text x="187.08" y="439.7" class="b" text-anchor="middle" transform="scale(1.2 1)">1</text><text x="307.50" y="439.7" class="b" text-anchor="middle" transform="scale(1.2 1)">10</text><text x="427.92" y="439.7" class="b" text-anchor="middle" transform="scale(1.2 1)">100</text><text x="548.33" y="439.7" class="b" text-anchor="middle" transform="scale(1.2 1)">1000</text></g>
<text class="b" style="font-size:22px" transform="translate(269.4 472.8) scale(1.252 1)">Particle size (µm)</text>
<text class="b" style="font-size:23.3px" transform="translate(19.2 251) rotate(-90) scale(1 1.15)">Volume (%)</text>
<g style="font-size:24px">
<text transform="translate(83.3 36.6) scale(1.151 1)">UO<tspan dy="4">2</tspan><tspan dy="-4">-Gd</tspan><tspan dy="4">2</tspan><tspan dy="-4">O</tspan><tspan dy="4">3</tspan><tspan dy="-4">( 5wt.%)</tspan></text>
<text transform="translate(84.1 69.1) scale(1.15 1)">As prepared samples</text>
</g>
<rect x="99.2" y="88.6" width="191" height="123.8" fill="none" stroke="#555" stroke-width="1"/>
<path d="M102.3 100.2 H146.1" stroke="#000000" stroke-width="2.5" fill="none"/>
<text class="b" style="font-size:16.2px" transform="translate(147.3 105.7) scale(1.19 1)">1.</text>
<text class="b" style="font-size:16.2px" transform="translate(180.6 105.7) scale(1.213 1)">UGd25ASP</text>
<path d="M102.3 120.4 H146.1" stroke="#ff0000" stroke-width="2.5" fill="none"/>
<text class="b" style="font-size:16.2px" transform="translate(151.3 125.9) scale(1.19 1)">2.</text>
<text class="b" style="font-size:16.2px" transform="translate(180.6 125.9) scale(1.213 1)">UGd50ASP</text>
<path d="M102.3 140.6 H146.1" stroke="#00ff00" stroke-width="2.5" fill="none"/>
<text class="b" style="font-size:16.2px" transform="translate(151.3 146.1) scale(1.19 1)">3.</text>
<text class="b" style="font-size:16.2px" transform="translate(180.6 146.1) scale(1.213 1)">UGd75ASP</text>
<path d="M102.3 160.8 H146.1" stroke="#0000ff" stroke-width="2.5" fill="none"/>
<text class="b" style="font-size:16.2px" transform="translate(151.3 166.3) scale(1.19 1)">4.</text>
<text class="b" style="font-size:16.2px" transform="translate(180.6 166.3) scale(1.213 1)">UGd100ASP</text>
<path d="M102.3 181.0 H146.1" stroke="#ff00ff" stroke-width="2.5" fill="none"/>
<text class="b" style="font-size:16.2px" transform="translate(151.3 186.5) scale(1.19 1)">5.</text>
<text class="b" style="font-size:16.2px" transform="translate(180.6 186.5) scale(1.213 1)">UGd125ASP</text>
<path d="M102.3 201.2 H146.1" stroke="#808000" stroke-width="2.5" fill="none"/>
<text class="b" style="font-size:16.2px" transform="translate(151.3 206.7) scale(1.19 1)">6.</text>
<text class="b" style="font-size:16.2px" transform="translate(180.6 206.7) scale(1.213 1)">UGd150ASP</text>
<g class="b" style="font-size:23px">
<text transform="translate(372.9 35.3) scale(1.2 1)">2</text>
<text transform="translate(454.7 164.6) scale(1.2 1)">1</text>
<text transform="translate(507.3 151) scale(1.2 1)">3</text>
<text transform="translate(358 156.4) scale(1.2 1)">4</text>
<text transform="translate(557.5 278.6) scale(1.2 1)">5</text>
<text transform="translate(438.9 296.3) scale(1.2 1)">6</text>
</g>
</svg>
</body></html>
